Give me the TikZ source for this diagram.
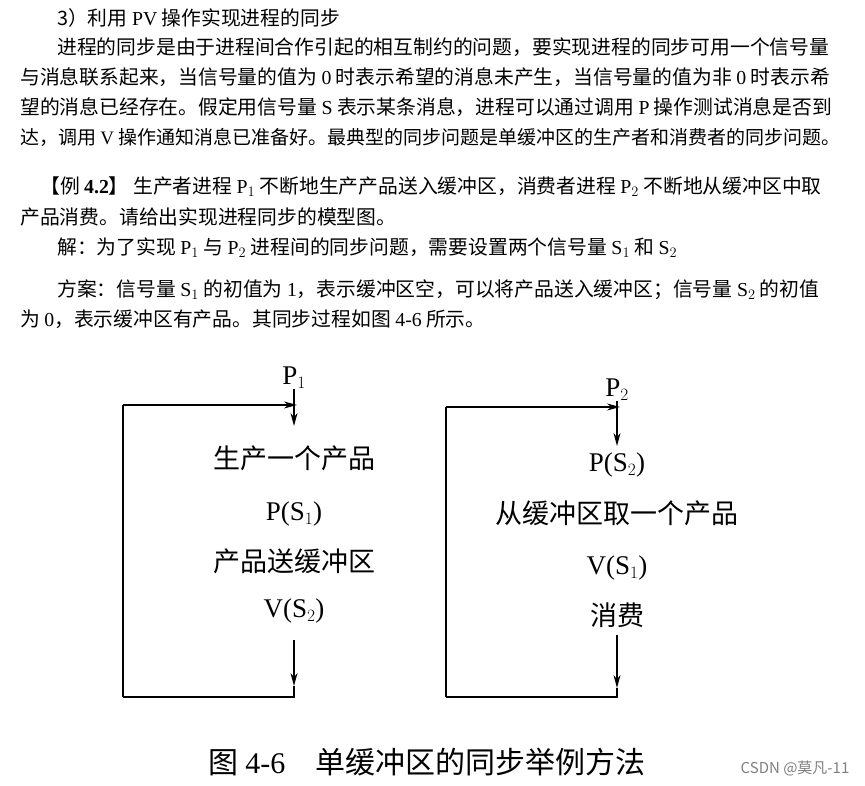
\documentclass[tikz,border=0pt]{standalone}
\usetikzlibrary{arrows.meta}
\usepackage{fontspec}
\setmainfont{Liberation Serif}
\newfontfamily\cjk{Noto Sans CJK SC}
\newcommand{\lt}[1]{{\rmfamily #1}}
\begin{document}
\begin{tikzpicture}[x=1pt,y=-1pt,
  body/.style={anchor=west,inner sep=0pt,font=\cjk\fontsize{19.8}{21}\selectfont},
  dia/.style={inner sep=0pt,font=\cjk\fontsize{27}{29}\selectfont},
  arr/.style={-{Stealth[length=13pt,width=7pt]},line width=1.2pt},
  ln/.style={line width=1.2pt}]
\useasboundingbox (0,0) rectangle (865,786);
\fill[white] (0,0) rectangle (865,786);
\node[body] (t0) at (57,18) {3）利用 \lt{PV} 操作实现进程的同步};
\node[body] (t1) at (57,47) {进程的同步是由于进程间合作引起的相互制约的问题，要实现进程的同步可用一个信号量};
\node[body] (t2) at (20,77) {与消息联系起来，当信号量的值为 \lt{0} 时表示希望的消息未产生，当信号量的值为非 \lt{0} 时表示希};
\node[body] (t3) at (20,107) {望的消息已经存在。假定用信号量 \lt{S} 表示某条消息，进程可以通过调用 \lt{P} 操作测试消息是否到};
\node[body,font=\cjk\fontsize{19}{21}\selectfont] (t4) at (20,137) {达，调用 \lt{V} 操作通知消息已准备好。最典型的同步问题是单缓冲区的生产者和消费者的同步问题。};
\node[body] (t5) at (40,187) {【例 \lt{\bfseries 4.2}】 生产者进程 \lt{P$_1$} 不断地生产产品送入缓冲区，消费者进程 \lt{P$_2$} 不断地从缓冲区中取};
\node[body] (t6) at (20,217) {产品消费。请给出实现进程同步的模型图。};
\node[body] (t7) at (57,248) {解：为了实现 \lt{P$_1$} 与 \lt{P$_2$} 进程间的同步问题，需要设置两个信号量 \lt{S$_1$} 和 \lt{S$_2$}};
\node[body] (t8) at (57,290) {方案：信号量 \lt{S$_1$} 的初值为 \lt{1}，表示缓冲区空，可以将产品送入缓冲区；信号量 \lt{S$_2$} 的初值};
\node[body] (t9) at (20,319) {为 \lt{0}，表示缓冲区有产品。其同步过程如图 \lt{4-6} 所示。};
% left
\node[dia] (p1) at (294,378) {\lt{P$_1$}};
\coordinate (la) at (123,405); \coordinate (lb) at (297,405);
\coordinate (lc) at (123,697); \coordinate (ld) at (294,697);
\draw[ln] (lc) -- (la); \draw[arr] (la) -- (lb);
\draw[arr] (p1.south) -- (294,426);
\node[dia] (a1) at (294,458) {生产一个产品};
\node[dia] (a2) at (294,514) {\lt{P(S$_1$)}};
\node[dia] (a3) at (294,561) {产品送缓冲区};
\node[dia] (a4) at (294,611) {\lt{V(S$_2$)}};
\draw[arr] (294,640) -- (294,686);
\draw[ln] (294,686) -- (ld) -- (lc);
% right
\node[dia] (p2) at (617,390) {\lt{P$_2$}};
\coordinate (ra) at (446,407); \coordinate (rb) at (620,407);
\coordinate (rc) at (446,697); \coordinate (rd) at (617,697);
\draw[ln] (rc) -- (ra); \draw[arr] (ra) -- (rb);
\draw[arr] (p2.south) -- (617,446);
\node[dia] (b1) at (617,465) {\lt{P(S$_2$)}};
\node[dia] (b2) at (617,513) {从缓冲区取一个产品};
\node[dia] (b3) at (617,568) {\lt{V(S$_1$)}};
\node[dia] (b4) at (617,615) {消费};
\draw[arr] (617,635) -- (617,688);
\draw[ln] (617,688) -- (rd) -- (rc);
\node[inner sep=0pt,font=\cjk\fontsize{30}{32}\selectfont] (cap) at (427,762) {图 \lt{4-6}\quad 单缓冲区的同步举例方法};
\node[inner sep=0pt,font=\cjk\fontsize{15}{16}\selectfont,text=gray] (wm) at (795,768) {CSDN @莫凡-11};
\end{tikzpicture}
\end{document}
